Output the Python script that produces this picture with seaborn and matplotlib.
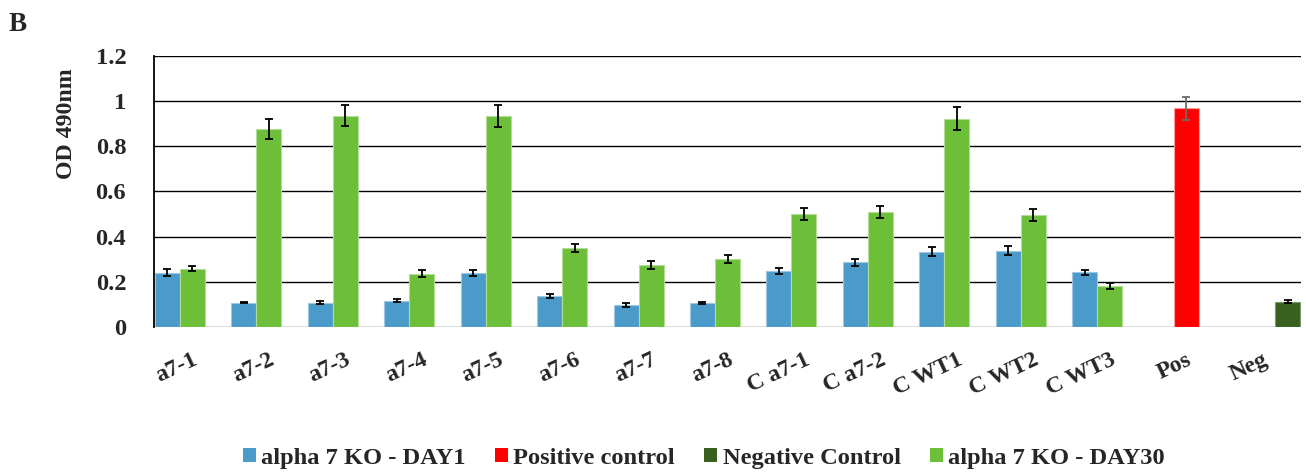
import numpy as np
import pandas as pd
import matplotlib
matplotlib.use("Agg")
import matplotlib.pyplot as plt
import matplotlib.transforms as mtransforms
import seaborn as sns

# ---- data -------------------------------------------------------------
categories = ["a7-1", "a7-2", "a7-3", "a7-4", "a7-5", "a7-6", "a7-7", "a7-8",
              "C a7-1", "C a7-2", "C WT1", "C WT2", "C WT3", "Pos", "Neg"]

day1_labels = categories[:13]
day1_values = [0.241, 0.108, 0.108, 0.117, 0.238, 0.137, 0.096, 0.105,
               0.249, 0.286, 0.333, 0.338, 0.242]
day1_errors = [0.015, 0.004, 0.007, 0.006, 0.013, 0.008, 0.008, 0.004,
               0.014, 0.016, 0.020, 0.019, 0.012]

day30_labels = categories[:13]
day30_values = [0.258, 0.876, 0.934, 0.236, 0.934, 0.348, 0.274, 0.300,
                0.499, 0.510, 0.922, 0.494, 0.180]
day30_errors = [0.012, 0.044, 0.046, 0.014, 0.049, 0.018, 0.016, 0.018,
                0.027, 0.027, 0.049, 0.027, 0.014]

pos_labels = ["Pos"]
pos_values = [0.967]
pos_errors = [0.051]

neg_labels = ["Neg"]
neg_values = [0.112]
neg_errors = [0.008]

series_names = ["alpha 7 KO - DAY1", "Positive control",
                "Negative Control", "alpha 7 KO - DAY30"]
series_colors = ["#4A9BCA", "#FF0000", "#38601E", "#6DBF3A"]
edge_colors = ["#9CC8E3", "#FF9C9C", "#7E9A6E", "#B2DD96"]

# ---- layout of the clustered bars ---------------------------------------
bar_w = 0.327          # width of one bar in category units
slot_offset = {        # position of each series inside its category
    series_names[0]: -bar_w,
    series_names[1]: 0.0,
    series_names[2]: +bar_w,
    series_names[3]: 0.0,
}

rows = []
for name, labels, vals, errs in [
        (series_names[0], day1_labels, day1_values, day1_errors),
        (series_names[1], pos_labels, pos_values, pos_errors),
        (series_names[2], neg_labels, neg_values, neg_errors),
        (series_names[3], day30_labels, day30_values, day30_errors)]:
    for lab, v, e in zip(labels, vals, errs):
        idx = categories.index(lab)
        rows.append({"series": name, "category": lab,
                     "pos": round(idx + slot_offset[name], 4),
                     "value": v, "err": e})
df = pd.DataFrame(rows)

# ---- style ------------------------------------------------------------
sns.set_theme(style="white")
plt.rcParams["font.family"] = ["Liberation Serif", "DejaVu Serif"]
plt.rcParams["font.weight"] = "bold"

FS = 17.6

fig = plt.figure(figsize=(13.06, 4.74), dpi=100)
ax = fig.add_axes([154 / 1306, 1 - 327 / 474, (1301 - 154) / 1306, (327 - 55.7) / 474])

sns.barplot(data=df, x="pos", y="value", hue="series", hue_order=series_names,
            palette=dict(zip(series_names, series_colors)),
            native_scale=True, dodge=False, width=1.0, errorbar=None,
            saturation=1.0, ax=ax, zorder=3)

# thin lighter outline around each bar
for patch in ax.patches:
    fc = matplotlib.colors.to_hex(patch.get_facecolor())
    for c, ec in zip(series_colors, edge_colors):
        if fc.lower() == c.lower():
            patch.set_edgecolor(ec)
            patch.set_linewidth(0.8)

# error bars
for name in series_names:
    sub = df[df["series"] == name]
    ecol = "#6B6B6B" if name == "Positive control" else "black"
    ax.errorbar(sub["pos"], sub["value"], yerr=sub["err"], fmt="none",
                ecolor=ecol, elinewidth=1.3, capsize=3.2, capthick=1.3,
                zorder=4)

# axes, grid and ticks
ax.set_xlim(-0.5, len(categories) - 0.5)
ax.set_ylim(0, 1.2)
yticks = [0, 0.2, 0.4, 0.6, 0.8, 1.0, 1.2]
ytick_labels = ["0", "0.2", "0.4", "0.6", "0.8", "1", "1.2"]
ax.set_yticks(yticks)
ax.set_yticklabels(ytick_labels, fontsize=FS, fontweight="bold")
for y in yticks[1:]:
    ax.axhline(y, color="black", lw=1.0, zorder=1)
ax.axhline(0, color="#D9D9D9", lw=2.0, zorder=2)

ax.set_xticks(range(len(categories)))
ax.set_xticklabels(categories, fontsize=FS - 0.6, fontweight="bold",
                   rotation=25, ha="right", va="top", rotation_mode="anchor")
shift = mtransforms.ScaledTranslation(6 / 100, 0, fig.dpi_scale_trans)
for lab in ax.get_xticklabels():
    lab.set_transform(lab.get_transform() + shift)
ax.tick_params(axis="x", length=0, pad=16)
ax.tick_params(axis="y", length=0, pad=20)

for side in ["top", "right", "bottom"]:
    ax.spines[side].set_visible(False)
ax.spines["left"].set_color("black")
ax.spines["left"].set_linewidth(1.3)
ax.spines["left"].set_zorder(5)

ax.set_xlabel("")
ax.set_ylabel("OD 490nm", fontsize=FS - 0.4, fontweight="bold")
ax.yaxis.set_label_coords(-0.067, 0.748)

sns.move_legend(ax, "center", bbox_to_anchor=(0.4795, -0.483), ncol=4,
                frameon=False, title=None, fontsize=FS,
                handlelength=0.53, handleheight=0.53, handletextpad=0.22,
                columnspacing=1.2)
for t in ax.get_legend().get_texts():
    t.set_fontweight("bold")
for h in ax.get_legend().legend_handles:
    h.set_edgecolor("none")

fig.text(9 / 1306, 1 - 31 / 474, "B", fontsize=19.5, fontweight="bold",
         ha="left", va="baseline")

fig.savefig("out.png", dpi=100)
